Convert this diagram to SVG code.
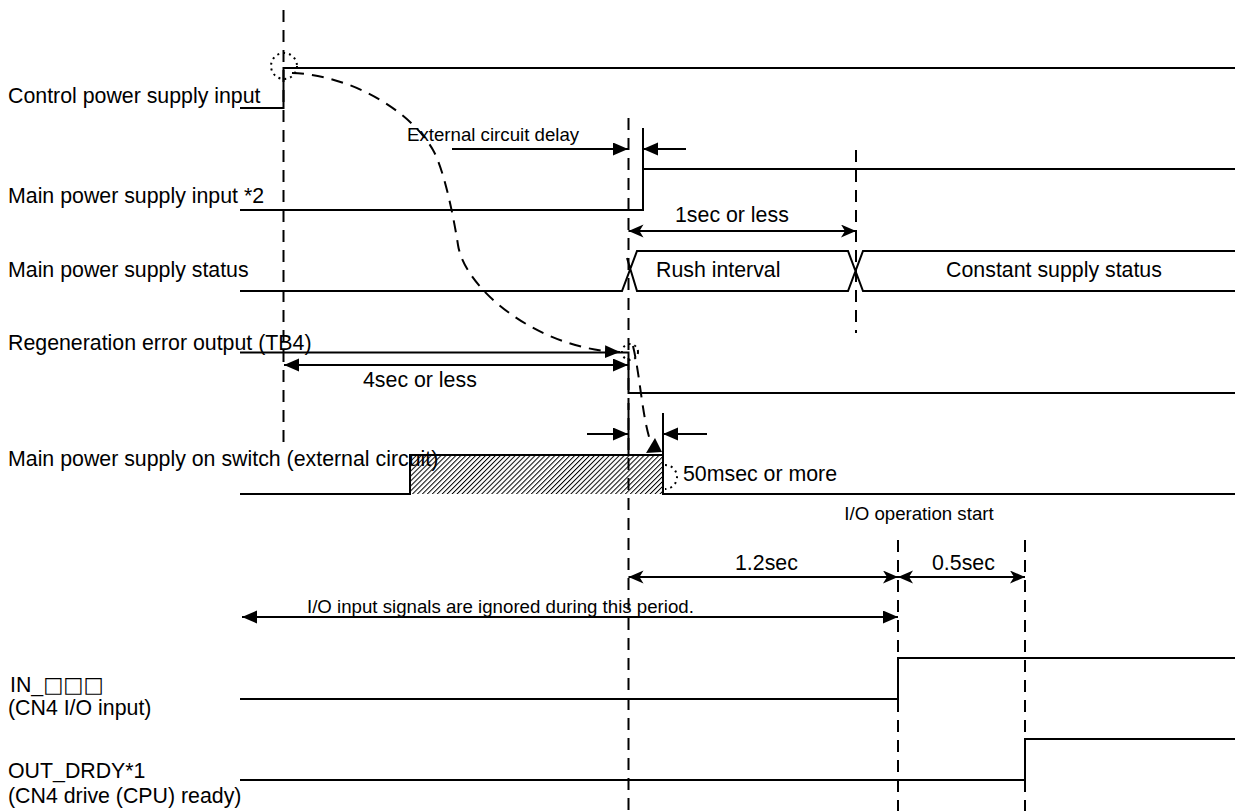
<svg xmlns="http://www.w3.org/2000/svg" width="1235" height="811" viewBox="0 0 1235 811">
<style>
.sig{fill:none;stroke:#000;stroke-width:2}
.dash{fill:none;stroke:#000;stroke-width:2;stroke-dasharray:12 8}
.dot{fill:none;stroke:#000;stroke-width:2;stroke-dasharray:2 4}
.dim{fill:none;stroke:#000;stroke-width:2}
.t{font-family:"Liberation Sans",Arial,"DejaVu Sans",sans-serif;font-size:21.33px;fill:#000}
.s{font-family:"Liberation Sans",Arial,"DejaVu Sans",sans-serif;font-size:18.67px;fill:#000}
.sq{font-family:"DejaVu Sans",sans-serif}
</style>
<defs>
<marker id="tri" markerUnits="userSpaceOnUse" markerWidth="16" markerHeight="14" refX="15" refY="6.5" orient="auto-start-reverse" viewBox="0 0 16 14"><path d="M0,0 L15,6.5 L0,13 z" fill="#000"/></marker>
<marker id="stl" markerUnits="userSpaceOnUse" markerWidth="16" markerHeight="14" refX="15" refY="6.5" orient="auto-start-reverse" viewBox="0 0 16 14"><path d="M0,0 L15,6.5 L0,13 L4,6.5 z" fill="#000"/></marker>
<pattern id="hatch" patternUnits="userSpaceOnUse" width="3.5" height="3.5" patternTransform="rotate(45)"><line x1="0.5" y1="0" x2="0.5" y2="3.5" stroke="#000" stroke-width="1"/></pattern>
</defs>

<g id="guides">
<line class="dash" x1="283.5" y1="10" x2="283.5" y2="450"/>
<line class="dash" x1="628.5" y1="118" x2="628.5" y2="811"/>
<line class="dash" x1="856" y1="150" x2="856" y2="333"/>
<line class="dash" x1="898" y1="540" x2="898" y2="811"/>
<line class="dash" x1="1025" y1="540" x2="1025" y2="811"/>
</g>

<g id="control-power">
<polyline class="sig" points="240,108 283.5,108 283.5,68 1235,68"/>
<text class="t" x="8" y="103">Control power supply input</text>
</g>

<g id="main-power-input">
<polyline class="sig" points="240,210 643,210 643,128"/>
<line class="sig" x1="643" y1="169" x2="1235" y2="169"/>
<text class="t" x="8" y="203">Main power supply input *2</text>
</g>

<g id="main-power-status">
<path class="sig" d="M240,291 L622,291 L637,251 L848,251 L863,291 L1235,291 M627,258 L637,291 L848,291 L863,251 L1235,251"/>
<text class="t" x="8" y="277">Main power supply status</text>
<text class="t" x="656" y="277">Rush interval</text>
<text class="t" x="1054" y="277" text-anchor="middle">Constant supply status</text>
</g>

<g id="regen-error">
<polyline class="sig" points="240,352.5 628.5,352.5 628.5,393 1235,393"/>
<text class="t" x="8" y="350">Regeneration error output (TB4)</text>
</g>

<g id="main-switch">
<rect x="410" y="455" width="253" height="39" fill="url(#hatch)"/>
<polyline class="sig" points="240,494 410,494 410,455 663,455 663,494 1235,494"/>
<text class="t" x="8" y="466">Main power supply on switch (external circuit)</text>
</g>

<g id="in-signal">
<polyline class="sig" points="240,699 898,699 898,658 1235,658"/>
<text class="t" x="10" y="692">IN_<tspan class="sq">□□□</tspan></text>
<text class="t" x="8" y="715">(CN4 I/O input)</text>
</g>

<g id="out-drdy">
<polyline class="sig" points="240,780 1025,780 1025,739 1235,739"/>
<text class="t" x="8" y="778">OUT_DRDY*1</text>
<text class="t" x="8" y="803">(CN4 drive (CPU) ready)</text>
</g>

<g id="connectors">
<path class="dash" d="M292,73 C350,75 410,110 433,150 C445,171 455,225 458,245 C465,290 540,350 620,352" marker-end="url(#tri)"/>
<path class="dash" d="M633,346 C640,375 642,415 650,440"/>
<polygon points="646,453 662,452 655,438" fill="#000"/>
<circle class="dot" cx="284" cy="66" r="13"/>
<circle class="dot" cx="630" cy="352" r="8"/>
<path class="dot" d="M665,465 A12,12 0 0 1 665,489"/>

<line class="dim" x1="452" y1="149" x2="628" y2="149" marker-end="url(#tri)"/>
<line class="dim" x1="686" y1="149" x2="643" y2="149" marker-end="url(#tri)"/>
<line class="dim" x1="628.5" y1="231" x2="856" y2="231" marker-start="url(#stl)" marker-end="url(#stl)"/>
<line class="dim" x1="284" y1="365" x2="628" y2="365" marker-start="url(#tri)" marker-end="url(#tri)"/>
<line class="dim" x1="628.5" y1="403" x2="628.5" y2="455"/>
<line class="dim" x1="663" y1="413" x2="663" y2="455"/>
<line class="dim" x1="587" y1="434" x2="628" y2="434" marker-end="url(#tri)"/>
<line class="dim" x1="707" y1="434" x2="663" y2="434" marker-end="url(#tri)"/>
<line class="dim" x1="628.5" y1="577" x2="898" y2="577" marker-start="url(#stl)" marker-end="url(#stl)"/>
<line class="dim" x1="898" y1="577" x2="1025" y2="577" marker-start="url(#stl)" marker-end="url(#stl)"/>
<line class="dim" x1="242" y1="617" x2="898" y2="617" marker-start="url(#tri)" marker-end="url(#tri)"/>
</g>

<g id="labels">
<text class="s" x="407" y="141">External circuit delay</text>
<text class="t" x="675" y="222">1sec or less</text>
<text class="t" x="363" y="387">4sec or less</text>
<text class="t" x="683" y="481">50msec or more</text>
<text class="s" x="919" y="520" text-anchor="middle">I/O operation start</text>
<text class="t" x="735" y="570">1.2sec</text>
<text class="t" x="932" y="570">0.5sec</text>
<text class="s" x="307" y="613">I/O input signals are ignored during this period.</text>
</g>
</svg>
